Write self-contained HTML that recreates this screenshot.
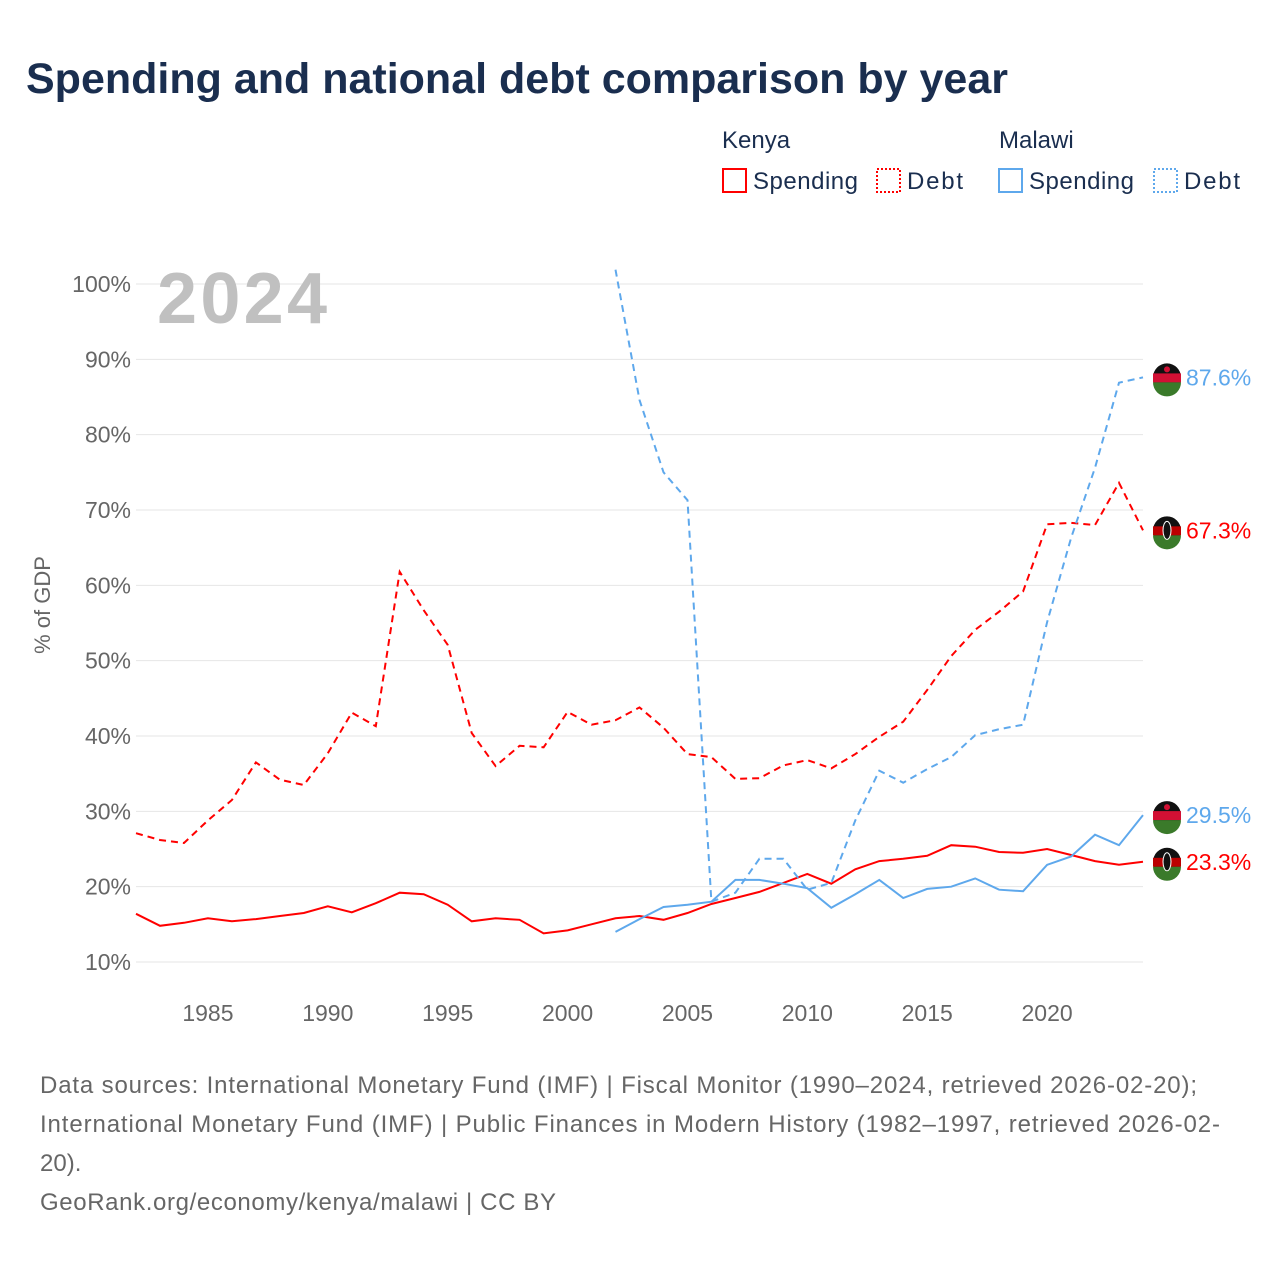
<!DOCTYPE html>
<html><head><meta charset="utf-8"><style>
body{margin:0;background:#fff;font-family:"Liberation Sans",sans-serif;}
svg{display:block}
</style></head><body>
<svg width="1280" height="1280" xmlns="http://www.w3.org/2000/svg">
<text x="26" y="93" font-size="43" font-weight="bold" fill="#1a2e4f" textLength="982" lengthAdjust="spacingAndGlyphs">Spending and national debt comparison by year</text>
<g font-size="24" fill="#1a2e4f">
<text x="722" y="148">Kenya</text>
<text x="999" y="148">Malawi</text>
<g><rect x="723" y="169" width="23" height="23" fill="none" stroke="#f00" stroke-width="2"/><text x="753" y="189" textLength="105">Spending</text></g>
<g><rect x="877" y="169" width="23" height="23" fill="none" stroke="#f00" stroke-width="2" stroke-dasharray="2,2"/><text x="907" y="189" textLength="56">Debt</text></g>
<g><rect x="999" y="169" width="23" height="23" fill="none" stroke="#5ea8ec" stroke-width="2"/><text x="1029" y="189" textLength="105">Spending</text></g>
<g><rect x="1154" y="169" width="23" height="23" fill="none" stroke="#5ea8ec" stroke-width="2" stroke-dasharray="2,2"/><text x="1184" y="189" textLength="56">Debt</text></g>
</g>
<g id="grid"></g>
<text x="157" y="323" font-size="72" font-weight="bold" fill="#c0c0c0" textLength="170">2024</text>
<text transform="translate(50,605) rotate(-90)" text-anchor="middle" font-size="22" fill="#666">% of GDP</text>
<g id="series"></g>
<g id="ends"></g>
<g font-size="24" fill="#666">
<text x="40" y="1093" textLength="1157">Data sources: International Monetary Fund (IMF) | Fiscal Monitor (1990–2024, retrieved 2026-02-20);</text>
<text x="40" y="1132" textLength="1180">International Monetary Fund (IMF) | Public Finances in Modern History (1982–1997, retrieved 2026-02-</text>
<text x="40" y="1171">20).</text>
<text x="40" y="1210" textLength="516">GeoRank.org/economy/kenya/malawi | CC BY</text>
</g>
</svg>
<script>
const yTicks=[10,20,30,40,50,60,70,80,90,100];
const xTicks=[1985,1990,1995,2000,2005,2010,2015,2020];
const kenyaYears=[];for(let y=1982;y<=2024;y++)kenyaYears.push(y);
const malawiYears=[];for(let y=2002;y<=2024;y++)malawiYears.push(y);
const kenyaDebt=[27.1,26.2,25.8,28.8,31.5,36.5,34.2,33.5,37.7,43.1,41.3,61.8,56.7,52.1,40.4,36.0,38.7,38.5,43.2,41.5,42.1,43.8,41.1,37.6,37.2,34.3,34.4,36.1,36.8,35.7,37.6,39.9,41.9,46.1,50.6,54.1,56.5,59.2,68.1,68.3,68.0,73.6,67.3];
const kenyaSpending=[16.4,14.8,15.2,15.8,15.4,15.7,16.1,16.5,17.4,16.6,17.8,19.2,19.0,17.6,15.4,15.8,15.6,13.8,14.2,15.0,15.8,16.1,15.6,16.5,17.7,18.5,19.3,20.5,21.7,20.4,22.3,23.4,23.7,24.1,25.5,25.3,24.6,24.5,25.0,24.2,23.4,22.9,23.3];
const malawiDebt=[101.9,84.6,75.0,71.3,18.0,19.2,23.7,23.7,19.6,20.5,28.8,35.4,33.8,35.6,37.2,40.1,40.9,41.5,55.1,66.3,75.6,86.9,87.6];
const malawiSpending=[14.0,15.7,17.3,17.6,18.0,20.9,20.9,20.4,19.8,17.2,19.0,20.9,18.5,19.7,20.0,21.1,19.6,19.4,22.9,24.0,26.9,25.5,29.5];
const NS="http://www.w3.org/2000/svg";
const X=y=>136+(y-1982)*(1143-136)/42;
const Y=v=>962-(v-10)*(962-284)/90;
function mk(t,a,p){const e=document.createElementNS(NS,t);for(const k in a)e.setAttribute(k,a[k]);p.appendChild(e);return e;}
const grid=document.getElementById('grid');
yTicks.forEach(v=>{
 const l=mk('line',{x1:136,x2:1143,y1:Y(v),y2:Y(v),stroke:'#e6e6e6','stroke-width':1},grid);
 
 
 const t=mk('text',{x:131,y:Y(v)+8,'text-anchor':'end','font-size':23,fill:'#666'},grid);t.textContent=v+'%';
 
 
});
xTicks.forEach(v=>{
 const t=mk('text',{x:X(v),y:1021,'text-anchor':'middle','font-size':23,fill:'#666'},grid);t.textContent=v;
 
 
});
const ser=document.getElementById('series');
function line(years,vals,color,dash,name){
 const d=vals.map((v,i)=>(i?'L':'M')+X(years[i]).toFixed(1)+','+Y(v).toFixed(1)).join('');
 const p=mk('path',{d:d,fill:'none',stroke:color,'stroke-width':2,'stroke-dasharray':dash||'none'},ser);
 
 
}
line(kenyaYears,kenyaDebt,'#f00','7,5','line-kenya-debt');
line(kenyaYears,kenyaSpending,'#f00','','line-kenya-spending');
line(malawiYears,malawiDebt,'#5ea8ec','7,5','line-malawi-debt');
line(malawiYears,malawiSpending,'#5ea8ec','','line-malawi-spending');
const ends=document.getElementById('ends');
function end(v,color,country,name){
 const cy=Y(v),cx=1167;
 const g=mk('g',{},ends);
 
 
 mk('circle',{cx:cx,cy:cy,r:14,fill:'#111'},g);
 mk('rect',{x:cx-14,y:cy-4,width:28,height:9,fill:country==='ke'?'#b00':'#d21034'},g);
 mk('path',{d:`M${cx-14},${cy+5} A14,14 0 0 0 ${cx+14},${cy+5} Z`,fill:'#3a7a2a'},g);
 if(country==='ke'){mk('ellipse',{cx:cx,cy:cy,rx:4,ry:9,fill:'#111',stroke:'#fff','stroke-width':1},g);}
 else{mk('circle',{cx:cx,cy:cy-8,r:3,fill:'#d21034'},g);}
 const t=mk('text',{x:1186,y:cy+8,'font-size':23,fill:color},g);t.textContent=v.toFixed(1)+'%';
}
end(malawiDebt[malawiDebt.length-1],'#5ea8ec','mw','end-label-malawi-debt');
end(kenyaDebt[kenyaDebt.length-1],'#f00','ke','end-label-kenya-debt');
end(malawiSpending[malawiSpending.length-1],'#5ea8ec','mw','end-label-malawi-spending');
end(kenyaSpending[kenyaSpending.length-1],'#f00','ke','end-label-kenya-spending');
</script>
</body></html>
